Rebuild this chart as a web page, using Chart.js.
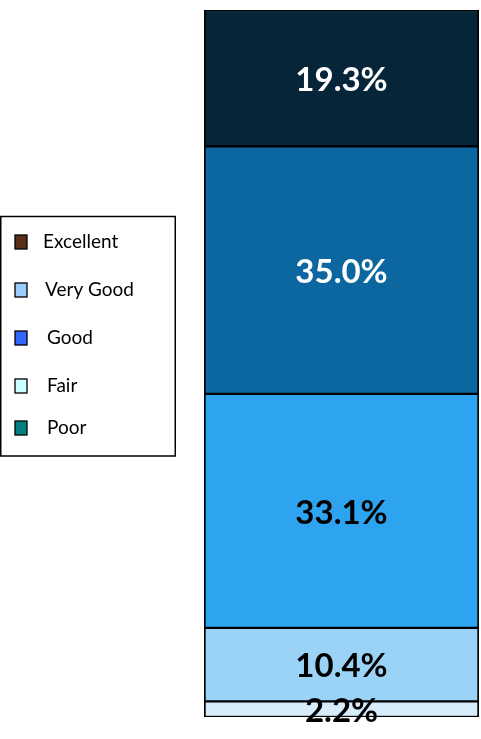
<!DOCTYPE html>
<html>
<head>
<meta charset="utf-8">
<script src="https://cdn.jsdelivr.net/npm/chart.js@4/dist/chart.umd.min.js"></script>
<style>
  html, body { margin: 0; padding: 0; background: #ffffff; }
  #wrap { position: relative; width: 481px; height: 739px; }
</style>
</head>
<body>
<div id="wrap"><canvas id="c" width="481" height="739"></canvas></div>
<script>
const categories = ['Excellent', 'Very Good', 'Good', 'Fair', 'Poor'];
const values = [19.3, 35.0, 33.1, 10.4, 2.2];
const valueLabels = ['19.3%', '35.0%', '33.1%', '10.4%', '2.2%'];
const barColors = ['#062539', '#0C67A1', '#2EA4F1', '#9BD3F7', '#D6ECFB'];
const labelColors = ['#ffffff', '#ffffff', '#000000', '#000000', '#000000'];
const legendColors = ['#5B2F18', '#99CCFF', '#3366FF', '#CCFFFF', '#008080'];
const legendTextX = [43, 45, 47, 47, 47];
const legendY = [242, 290, 338, 386, 428];

// bottom-up stacking: reverse so Excellent is on top
const order = [4, 3, 2, 1, 0];
const datasets = order.map(i => ({
  label: categories[i],
  data: [values[i]],
  backgroundColor: barColors[i],
  borderColor: '#000000',
  borderWidth: { left: 2, right: 2, top: 1.5, bottom: 1.5 },
  borderSkipped: false,
  categoryPercentage: 1.0,
  barPercentage: 1.0,
  _idx: i
}));

const valueLabelPlugin = {
  id: 'valueLabels',
  afterDatasetsDraw(chart) {
    const ctx = chart.ctx;
    ctx.save();
    ctx.font = 'bold 33px Lato';
    ctx.textAlign = 'center';
    ctx.textBaseline = 'middle';
    chart.data.datasets.forEach((ds, di) => {
      const meta = chart.getDatasetMeta(di);
      meta.data.forEach(el => {
        const p = el.getProps(['x', 'y', 'base'], true);
        const cy = (p.y + p.base) / 2 + 2;
        ctx.fillStyle = labelColors[ds._idx];
        ctx.fillText(valueLabels[ds._idx], p.x, cy);
      });
    });
    ctx.restore();
  }
};

const legendPlugin = {
  id: 'boxLegend',
  afterDraw(chart) {
    const ctx = chart.ctx;
    ctx.save();
    ctx.strokeStyle = '#000000';
    ctx.lineWidth = 1.5;
    ctx.strokeRect(0.75, 216.5, 174.5, 239.5);
    ctx.font = '19px Lato';
    ctx.textBaseline = 'middle';
    ctx.textAlign = 'left';
    categories.forEach((c, i) => {
      const y = legendY[i];
      ctx.fillStyle = legendColors[i];
      ctx.fillRect(15, y - 7, 12, 14);
      ctx.lineWidth = 1.3;
      ctx.strokeRect(15, y - 7, 12, 14);
      ctx.fillStyle = '#000000';
      ctx.fillText(c, legendTextX[i], y);
    });
    ctx.restore();
  }
};

new Chart(document.getElementById('c'), {
  type: 'bar',
  data: { labels: [''], datasets },
  options: {
    responsive: false,
    animation: false,
    layout: { padding: { left: 204, right: 2, top: 10, bottom: 22 } },
    plugins: { legend: { display: false }, tooltip: { enabled: false } },
    scales: {
      x: { stacked: true, display: false },
      y: { stacked: true, display: false, min: 0, max: 100 }
    }
  },
  plugins: [valueLabelPlugin, legendPlugin]
});
</script>
</body>
</html>
